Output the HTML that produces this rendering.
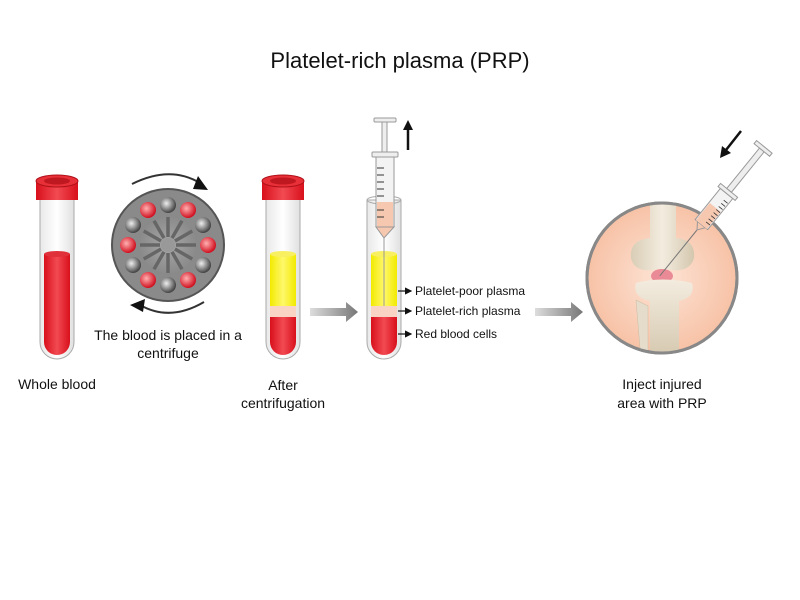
<!DOCTYPE html>
<html><head><meta charset="utf-8"><style>
html,body{margin:0;padding:0;background:#fff;}
svg{display:block;font-family:"Liberation Sans",sans-serif;}
</style></head><body>
<svg width="800" height="600" viewBox="0 0 800 600" xmlns="http://www.w3.org/2000/svg">
<defs>
<linearGradient id="red" x1="0" x2="1"><stop offset="0" stop-color="#d8101c"/><stop offset=".5" stop-color="#f24a52"/><stop offset="1" stop-color="#d8101c"/></linearGradient>
<linearGradient id="yel" x1="0" x2="1"><stop offset="0" stop-color="#f2ea00"/><stop offset=".5" stop-color="#fff86a"/><stop offset="1" stop-color="#f2ea00"/></linearGradient>
<linearGradient id="glass" x1="0" x2="1"><stop offset="0" stop-color="#e8e8e8"/><stop offset=".5" stop-color="#fff"/><stop offset="1" stop-color="#e0e0e0"/></linearGradient>
<radialGradient id="gball" cx=".4" cy=".4" r=".6"><stop offset="0" stop-color="#eee"/><stop offset="1" stop-color="#444"/></radialGradient>
<radialGradient id="rball" cx=".4" cy=".4" r=".6"><stop offset="0" stop-color="#ffb0b0"/><stop offset="1" stop-color="#d01020"/></radialGradient>
<radialGradient id="hub" cx=".5" cy=".5" r=".5"><stop offset="0" stop-color="#bbb"/><stop offset="1" stop-color="#888"/></radialGradient>
<radialGradient id="skin" cx=".5" cy=".5" r=".5"><stop offset="0" stop-color="#fde4d6"/><stop offset="1" stop-color="#f7c2a6"/></radialGradient>
<linearGradient id="bone" x1="0" x2="1"><stop offset="0" stop-color="#d9cdb6"/><stop offset=".5" stop-color="#f3ecdf"/><stop offset="1" stop-color="#d4c7ae"/></linearGradient>
<linearGradient id="bone2" x1="0" x2="0" y1="0" y2="1"><stop offset="0" stop-color="#f3ecdf"/><stop offset="1" stop-color="#d4c7ae"/></linearGradient>
<linearGradient id="garr" x1="0" x2="1"><stop offset="0" stop-color="#ddd"/><stop offset="1" stop-color="#777"/></linearGradient>
<marker id="ah" markerWidth="6" markerHeight="6" refX="5" refY="3" orient="auto"><path d="M0,0L6,3L0,6z" fill="#111"/></marker>
</defs>
<text x="400" y="68" text-anchor="middle" font-size="22" fill="#111">Platelet-rich plasma (PRP)</text>

<!-- tube 1 -->
<path d="M40,198 V342 a17,17 0 0 0 34,0 V198z" fill="url(#glass)" stroke="#aaa"/>
<path d="M44,254 V342 a13,13 0 0 0 26,0 V254z" fill="url(#red)"/>
<ellipse cx="57" cy="254" rx="13" ry="3" fill="#e0303a"/>
<rect x="36" y="180" width="42" height="20" fill="url(#red)"/>
<ellipse cx="57" cy="181" rx="21" ry="6" fill="#e83038" stroke="#b01018"/>
<ellipse cx="57" cy="181" rx="13" ry="3.5" fill="#c01820"/>
<text x="57" y="389" text-anchor="middle" font-size="14" fill="#111">Whole blood</text>

<!-- centrifuge -->
<circle cx="168" cy="245" r="56" fill="#8a8a8a" stroke="#555" stroke-width="2"/>
<circle cx="168" cy="245" r="30" fill="url(#hub)" opacity=".6"/>
<g stroke="#666" stroke-width="3.5" transform="translate(168,245)">
<line x1="0" y1="-8" x2="0" y2="-28"/>
<line x1="0" y1="-8" x2="0" y2="-28" transform="rotate(30)"/>
<line x1="0" y1="-8" x2="0" y2="-28" transform="rotate(60)"/>
<line x1="0" y1="-8" x2="0" y2="-28" transform="rotate(90)"/>
<line x1="0" y1="-8" x2="0" y2="-28" transform="rotate(120)"/>
<line x1="0" y1="-8" x2="0" y2="-28" transform="rotate(150)"/>
<line x1="0" y1="-8" x2="0" y2="-28" transform="rotate(180)"/>
<line x1="0" y1="-8" x2="0" y2="-28" transform="rotate(210)"/>
<line x1="0" y1="-8" x2="0" y2="-28" transform="rotate(240)"/>
<line x1="0" y1="-8" x2="0" y2="-28" transform="rotate(270)"/>
<line x1="0" y1="-8" x2="0" y2="-28" transform="rotate(300)"/>
<line x1="0" y1="-8" x2="0" y2="-28" transform="rotate(330)"/>
</g>
<circle cx="168" cy="245" r="7" fill="#999"/>
<g>
<circle cx="168" cy="205" r="8" fill="url(#gball)"/>
<circle cx="188" cy="210" r="8" fill="url(#rball)"/>
<circle cx="203" cy="225" r="8" fill="url(#gball)"/>
<circle cx="208" cy="245" r="8" fill="url(#rball)"/>
<circle cx="203" cy="265" r="8" fill="url(#gball)"/>
<circle cx="188" cy="280" r="8" fill="url(#rball)"/>
<circle cx="168" cy="285" r="8" fill="url(#gball)"/>
<circle cx="148" cy="280" r="8" fill="url(#rball)"/>
<circle cx="133" cy="265" r="8" fill="url(#gball)"/>
<circle cx="128" cy="245" r="8" fill="url(#rball)"/>
<circle cx="133" cy="225" r="8" fill="url(#gball)"/>
<circle cx="148" cy="210" r="8" fill="url(#rball)"/>
</g>
<path d="M132,184 Q170,165 200,183" fill="none" stroke="#333" stroke-width="2"/>
<path d="M198,176 L208,190 L193,189z" fill="#111"/>
<path d="M204,302 Q170,322 140,305" fill="none" stroke="#333" stroke-width="2"/>
<path d="M130,305 L145,299 L143,312z" fill="#111"/>
<text x="168" y="340" text-anchor="middle" font-size="14" fill="#111">The blood is placed in a</text>
<text x="168" y="358" text-anchor="middle" font-size="14" fill="#111">centrifuge</text>

<!-- tube 2 -->
<path d="M266,198 V342 a17,17 0 0 0 34,0 V198z" fill="url(#glass)" stroke="#aaa"/>
<path d="M270,254 V306 H296 V254z" fill="url(#yel)"/>
<ellipse cx="283" cy="254" rx="13" ry="3" fill="#f8f060"/>
<rect x="270" y="306" width="26" height="11" fill="#f9d4c4"/>
<path d="M270,317 V342 a13,13 0 0 0 26,0 V317z" fill="url(#red)"/>
<rect x="262" y="180" width="42" height="20" fill="url(#red)"/>
<ellipse cx="283" cy="181" rx="21" ry="6" fill="#e83038" stroke="#b01018"/>
<ellipse cx="283" cy="181" rx="13" ry="3.5" fill="#c01820"/>
<text x="283" y="390" text-anchor="middle" font-size="14" fill="#111">After</text>
<text x="283" y="408" text-anchor="middle" font-size="14" fill="#111">centrifugation</text>

<path d="M310,308 H346 V302 L358,312 L346,322 V316 H310z" fill="url(#garr)"/>

<!-- tube 3 with syringe -->
<path d="M367,200 V342 a17,17 0 0 0 34,0 V200z" fill="url(#glass)" stroke="#aaa"/>
<ellipse cx="384" cy="200" rx="17" ry="4" fill="none" stroke="#aaa"/>
<path d="M371,254 V306 H397 V254z" fill="url(#yel)"/>
<ellipse cx="384" cy="254" rx="13" ry="3" fill="#f8f060"/>
<rect x="371" y="306" width="26" height="11" fill="#f9d4c4"/>
<path d="M371,317 V342 a13,13 0 0 0 26,0 V317z" fill="url(#red)"/>
<rect x="374" y="118" width="22" height="4" rx="1" fill="#eee" stroke="#999"/>
<rect x="382" y="122" width="5" height="30" fill="#eee" stroke="#999"/>
<rect x="372" y="152" width="26" height="5" rx="1" fill="#eee" stroke="#999"/>
<rect x="376" y="157" width="18" height="70" fill="#f3f3f3" stroke="#999"/>
<rect x="377" y="202" width="16" height="25" fill="#f7c8b0"/>
<path d="M376,227 L384,238 L394,227z" fill="#f7c8b0" stroke="#999"/>
<g stroke="#333" stroke-width="1"><line x1="377" y1="168" x2="384" y2="168"/><line x1="377" y1="175" x2="384" y2="175"/><line x1="377" y1="182" x2="384" y2="182"/><line x1="377" y1="189" x2="384" y2="189"/><line x1="377" y1="196" x2="384" y2="196"/><line x1="377" y1="210" x2="384" y2="210"/><line x1="377" y1="217" x2="384" y2="217"/></g>
<line x1="384" y1="238" x2="384" y2="306" stroke="#999"/>
<line x1="408" y1="150" x2="408" y2="128" stroke="#111" stroke-width="2.5"/>
<path d="M403,130 L408,120 L413,130z" fill="#111"/>
<g stroke="#111" stroke-width="1.2" marker-end="url(#ah)"><line x1="398" y1="291" x2="411" y2="291"/><line x1="398" y1="311" x2="411" y2="311"/><line x1="398" y1="334" x2="411" y2="334"/></g>
<g font-size="12" fill="#111"><text x="415" y="295">Platelet-poor plasma</text><text x="415" y="315">Platelet-rich plasma</text><text x="415" y="338">Red blood cells</text></g>

<path d="M535,308 H571 V302 L583,312 L571,322 V316 H535z" fill="url(#garr)"/>

<!-- knee -->
<clipPath id="cc"><circle cx="662" cy="278" r="74"/></clipPath>
<circle cx="662" cy="278" r="75" fill="url(#skin)" stroke="#888" stroke-width="3"/>
<g clip-path="url(#cc)">
<path d="M650,195 H676 V238 Q696,240 694,258 Q690,272 672,270 Q662,268 652,270 Q634,272 631,258 Q629,240 650,238z" fill="url(#bone)"/>
<ellipse cx="662" cy="276" rx="11" ry="7" fill="#ea8a96"/>
<path d="M636,283 Q662,276 692,283 Q696,297 679,301 V360 H650 V301 Q632,297 636,283z" fill="url(#bone2)"/>
<path d="M636,300 L648,306 V360 H641z" fill="#e6dccb" stroke="#c8bba2" stroke-width=".5"/>
</g>
<circle cx="662" cy="278" r="75" fill="none" stroke="#888" stroke-width="3"/>
<!-- diagonal syringe -->
<g transform="translate(697,230) rotate(-51)">
<line x1="0" y1="0" x2="-59" y2="0" stroke="#777" stroke-width="1"/>
<path d="M0,0 L7,-5 L7,5z" fill="#f7c8b0" stroke="#999"/>
<rect x="7" y="-8" width="40" height="16" fill="#f3f3f3" stroke="#999"/>
<rect x="7" y="-7" width="22" height="14" fill="#f7c8b0"/>
<g stroke="#333" stroke-width=".8"><line x1="12" y1="2" x2="12" y2="7"/><line x1="16" y1="2" x2="16" y2="7"/><line x1="20" y1="2" x2="20" y2="7"/><line x1="24" y1="2" x2="24" y2="7"/><line x1="28" y1="2" x2="28" y2="7"/><line x1="32" y1="2" x2="32" y2="7"/><line x1="36" y1="2" x2="36" y2="7"/><line x1="40" y1="2" x2="40" y2="7"/></g>
<rect x="47" y="-11" width="4" height="22" fill="#eee" stroke="#999"/>
<rect x="51" y="-3" width="52" height="6" fill="#eee" stroke="#999"/>
<rect x="103" y="-10" width="4" height="20" fill="#eee" stroke="#999"/>
</g>
<line x1="741" y1="131" x2="726" y2="150" stroke="#111" stroke-width="2.5"/>
<path d="M720,158 L722,146 L731,153z" fill="#111"/>
<text x="662" y="389" text-anchor="middle" font-size="14" fill="#111">Inject injured</text>
<text x="662" y="408" text-anchor="middle" font-size="14" fill="#111">area with PRP</text>
</svg>
</body></html>
